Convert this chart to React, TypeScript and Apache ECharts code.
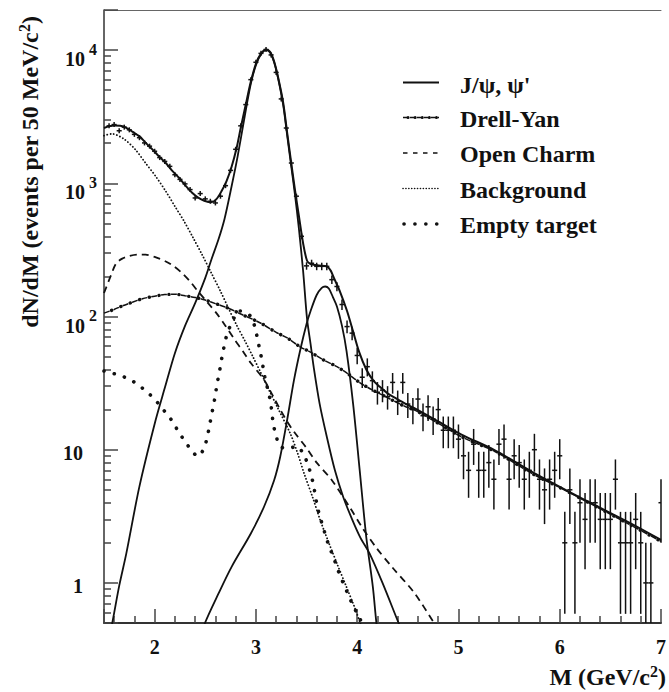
import React, { useEffect, useRef } from 'react';
import * as echarts from 'echarts';

const FONT = "'Liberation Serif', 'Times New Roman', Times, serif";
const INK = '#111';

// Bin centres (GeV/c^2) and event counts per 50 MeV/c^2
const massBins: number[] = [
  1.55, 1.6, 1.65, 1.7, 1.75, 1.8, 1.85, 1.9, 1.95, 2.0,
  2.05, 2.1, 2.15, 2.2, 2.25, 2.3, 2.35, 2.4, 2.45, 2.5,
  2.55, 2.6, 2.65, 2.7, 2.75, 2.8, 2.85, 2.9, 2.95, 3.0,
  3.05, 3.1, 3.15, 3.2, 3.25, 3.3, 3.35, 3.4, 3.45, 3.5,
  3.55, 3.6, 3.65, 3.7, 3.75, 3.8, 3.85, 3.9, 3.95, 4.0,
  4.05, 4.1, 4.15, 4.2, 4.25, 4.3, 4.35, 4.4, 4.45, 4.5,
  4.55, 4.6, 4.65, 4.7, 4.75, 4.8, 4.85, 4.9, 4.95, 5.0,
  5.05, 5.1, 5.15, 5.2, 5.25, 5.3, 5.35, 5.4, 5.45, 5.5,
  5.55, 5.6, 5.65, 5.7, 5.75, 5.8, 5.85, 5.9, 5.95, 6.0,
  6.05, 6.1, 6.15, 6.2, 6.25, 6.3, 6.35, 6.4, 6.45, 6.5,
  6.55, 6.6, 6.65, 6.7, 6.75, 6.8, 6.85, 6.9, 6.95, 7.0,
];
const counts: number[] = [
  2700, 2760, 2480, 2640, 2520, 2330, 2200, 2010, 1900, 1740,
  1560, 1460, 1340, 1160, 1070, 990, 897, 776, 837, 764,
  733, 712, 800, 960, 1250, 1800, 2700, 3900, 6000, 8100,
  9450, 10100, 9200, 6800, 4300, 2600, 1420, 800, 400, 240,
  251, 238, 238, 238, 189, 168, 123, 84, 75, 51,
  35, 42, 33, 27, 28, 25, 32, 23, 32, 22,
  20, 24, 18, 21, 17, 20, 14, 14, 14, 12,
  9, 7, 11, 7, 7, 8, 6, 11, 12, 6,
  9, 8, 6, 7, 10, 6, 5, 6, 7, 9,
  2, 5, 2, 4, 3, 4, 4, 3, 3, 3,
  6, 2, 2, 2, 3, 2, 1, 1, 0, 4,
];

// Fitted curves: [mass, dN/dM]
const totalFit: [number, number][] = [
  [1.5, 2600], [1.55, 2680], [1.6, 2720], [1.66, 2700], [1.72, 2610], [1.78, 2440],
  [1.85, 2250], [1.91, 2020], [1.98, 1790], [2.04, 1600], [2.11, 1420], [2.17, 1250],
  [2.24, 1100], [2.3, 970], [2.37, 848], [2.43, 780], [2.49, 740], [2.56, 720],
  [2.61, 760], [2.66, 871], [2.71, 1040], [2.76, 1330], [2.81, 1850], [2.85, 2600],
  [2.9, 3900], [2.95, 5800], [3.0, 7900], [3.05, 9400], [3.1, 10100], [3.14, 9700],
  [3.18, 8200], [3.22, 6200], [3.27, 4000], [3.31, 2350], [3.35, 1400], [3.385, 900],
  [3.424, 571], [3.466, 355], [3.505, 262], [3.54, 247], [3.57, 245], [3.62, 241],
  [3.7, 238], [3.74, 220], [3.77, 195], [3.83, 154], [3.9, 110], [3.96, 77],
  [4.02, 54], [4.09, 40], [4.16, 33], [4.22, 29.8], [4.3, 26.5], [4.38, 24.4],
  [4.47, 22.3], [4.56, 20.6], [4.8, 16.3], [5.03, 13.0], [5.36, 9.9], [5.73, 6.8],
  [6.3, 4.0], [6.7, 2.8], [7.0, 2.1],
];
const jpsi: [number, number][] = [
  [1.55, 0.38], [1.586, 0.52], [1.65, 0.95], [1.72, 1.66], [1.85, 5.3], [2.01, 16.7],
  [2.1, 29], [2.2, 53], [2.3, 85], [2.4, 126], [2.5, 195], [2.56, 267], [2.63, 378],
  [2.69, 540], [2.76, 950], [2.82, 1600], [2.89, 3200], [2.95, 5600], [3.0, 7700],
  [3.05, 9300], [3.1, 10000], [3.14, 9600], [3.18, 8100], [3.22, 6100], [3.27, 3850],
  [3.31, 2250], [3.35, 1320], [3.385, 830], [3.424, 460], [3.466, 220], [3.505, 96],
  [3.54, 62], [3.57, 42], [3.63, 22], [3.7, 12.5], [3.78, 7.0], [3.863, 4.4],
  [3.95, 3.0], [4.03, 2.2], [4.123, 1.66], [4.25, 1.0], [4.4, 0.52], [4.45, 0.42],
];
const psiPrime: [number, number][] = [
  [2.45, 0.38], [2.497, 0.5], [2.63, 0.83], [2.76, 1.32], [2.95, 2.35], [3.08, 3.73],
  [3.18, 5.9], [3.24, 8.85], [3.31, 17], [3.375, 33], [3.44, 57], [3.5, 88],
  [3.54, 110], [3.6, 145], [3.65, 164], [3.684, 168], [3.72, 162], [3.76, 140],
  [3.8, 119], [3.85, 85], [3.895, 55], [3.96, 22], [4.025, 7.0], [4.09, 2.2],
  [4.155, 0.93], [4.19, 0.5], [4.22, 0.35],
];
const drellYan: [number, number][] = [
  [1.5, 106], [1.6, 113], [1.68, 120], [1.78, 128], [1.88, 136], [2.0, 142],
  [2.1, 146], [2.2, 147], [2.3, 143], [2.4, 139], [2.5, 133], [2.6, 125],
  [2.72, 116], [2.88, 102], [3.05, 89], [3.2, 76], [3.31, 69], [3.44, 59],
  [3.54, 54], [3.65, 48], [3.8, 42], [3.9, 37.5], [4.05, 31], [4.28, 25],
  [4.48, 21], [4.56, 20], [4.8, 15.8], [5.03, 12.5], [5.36, 9.7], [5.73, 6.6],
  [6.0, 5.2], [6.3, 3.95], [6.65, 2.85], [7.0, 2.05],
];
const openCharm: [number, number][] = [
  [1.5, 150], [1.52, 164], [1.57, 205], [1.62, 251], [1.68, 272], [1.75, 285],
  [1.83, 292], [1.91, 291], [2.0, 280], [2.11, 259], [2.19, 238], [2.27, 212],
  [2.35, 183], [2.43, 154], [2.52, 128], [2.61, 106], [2.7, 85], [2.79, 67],
  [2.87, 55], [2.95, 44.7], [3.08, 33.5], [3.16, 26], [3.24, 20], [3.31, 16.2],
  [3.38, 13.5], [3.5, 10.3], [3.6, 8.0], [3.75, 5.9], [3.93, 3.66], [4.05, 2.6],
  [4.19, 1.83], [4.35, 1.3], [4.56, 0.85], [4.76, 0.5], [4.8, 0.45],
];
const background: [number, number][] = [
  [1.5, 2280], [1.58, 2350], [1.7, 2140], [1.81, 1790], [1.91, 1420], [2.01, 1130],
  [2.11, 871], [2.2, 672], [2.29, 520], [2.38, 390], [2.47, 290], [2.56, 212],
  [2.65, 155], [2.73, 115], [2.81, 86], [2.89, 66], [2.97, 50], [3.05, 37.6],
  [3.13, 28], [3.21, 21], [3.34, 13.2], [3.41, 9.5], [3.48, 6.5], [3.56, 4.4],
  [3.635, 2.96], [3.72, 2.0], [3.8, 1.4], [3.89, 0.95], [3.98, 0.64], [4.03, 0.5],
  [4.06, 0.44],
];
const emptyTarget: [number, number][] = [
  [1.5, 39], [1.55, 38], [1.65, 36.3], [1.75, 33.8], [1.83, 31], [1.92, 27.3],
  [2.0, 24], [2.06, 21], [2.13, 18.2], [2.19, 15.7], [2.24, 13.4], [2.3, 11.6],
  [2.36, 9.95], [2.43, 8.9], [2.49, 10.4], [2.52, 12.5], [2.54, 14.9], [2.56, 17.9],
  [2.58, 21.4], [2.6, 25.7], [2.615, 30.9], [2.637, 37.3], [2.653, 44], [2.672, 53],
  [2.695, 64], [2.72, 76], [2.767, 91], [2.83, 110], [2.9, 108], [2.96, 97],
  [2.995, 80], [3.02, 65.6], [3.043, 54], [3.063, 45.4], [3.079, 38], [3.102, 31.6],
  [3.128, 26.3], [3.147, 22], [3.161, 18.2], [3.173, 15.3], [3.2, 12.8], [3.232, 10.7],
  [3.31, 10.2], [3.407, 10.6], [3.473, 9.1], [3.512, 7.8], [3.544, 6.45], [3.57, 5.4],
  [3.586, 4.5], [3.609, 3.7], [3.628, 3.2], [3.661, 2.67], [3.693, 2.2], [3.726, 1.85],
  [3.765, 1.57], [3.798, 1.32], [3.837, 1.11], [3.879, 0.93], [3.921, 0.785],
  [3.97, 0.65], [4.025, 0.546], [4.06, 0.45],
];

const legendLabels: string[] = ["J/ψ, ψ'", 'Drell-Yan', 'Open Charm', 'Background', 'Empty target'];

function yLabel(v: number): string {
  const p = Math.round(Math.log10(v));
  if (Math.abs(Math.log10(v) - p) > 1e-6) return '';
  if (p === 0) return '{n|1}';
  if (p === 1) return '{n|10}';
  return '{b|10}{s|' + p + '}';
}

export default function App() {
  const ref = useRef<HTMLDivElement>(null);
  useEffect(() => {
    if (!ref.current) return;
    const chart = echarts.init(ref.current, undefined, { renderer: 'svg' });

    const points = massBins
      .map((m, i) => [m, counts[i]])
      .filter((d) => d[1] > 0);

    const lineBase = { type: 'line', showSymbol: false, symbol: 'none', smooth: 0.3, silent: true };

    const rowY = [84.5, 118.5, 154, 189.5, 225];
    const lx1 = 403;
    const lx2 = 439;

    const legendGraphics: any[] = [
      { type: 'line', shape: { x1: lx1, y1: rowY[0] - 2, x2: lx2, y2: rowY[0] - 2 }, style: { stroke: INK, lineWidth: 2 } },
      { type: 'line', shape: { x1: lx1, y1: rowY[1] - 1, x2: lx2, y2: rowY[1] - 1 }, style: { stroke: INK, lineWidth: 1.4, lineDash: [4, 3] } },
      { type: 'line', shape: { x1: lx1 + 5, y1: rowY[1] - 1, x2: lx2, y2: rowY[1] - 1 }, style: { stroke: INK, lineWidth: 3, lineDash: [0.1, 7], lineCap: 'round' } },
      { type: 'line', shape: { x1: lx1, y1: rowY[2] - 1, x2: lx2, y2: rowY[2] - 1 }, style: { stroke: INK, lineWidth: 1.7, lineDash: [4.5, 5.5] } },
      { type: 'line', shape: { x1: lx1, y1: rowY[3] - 1, x2: lx2, y2: rowY[3] - 1 }, style: { stroke: INK, lineWidth: 1.6, lineDash: [0.1, 2.8], lineCap: 'round' } },
      { type: 'line', shape: { x1: lx1 + 1, y1: rowY[4] - 1, x2: lx2, y2: rowY[4] - 1 }, style: { stroke: INK, lineWidth: 3.6, lineDash: [0.1, 10.8], lineCap: 'round' } },
    ];
    legendLabels.forEach((t, i) => {
      legendGraphics.push({
        type: 'text', x: 460, y: rowY[i],
        style: { text: t, fontFamily: FONT, fontWeight: 'bold', fontSize: 24, fill: INK, align: 'left', verticalAlign: 'middle' },
      });
    });

    const titleRich = {
      a: { fontFamily: FONT, fontWeight: 'bold', fontSize: 24, fill: INK, color: INK, lineHeight: 26, verticalAlign: 'bottom' },
      s: { fontFamily: FONT, fontWeight: 'bold', fontSize: 16, fill: INK, color: INK, lineHeight: 14, verticalAlign: 'top' },
    };

    chart.setOption({
      animation: false,
      backgroundColor: '#fff',
      grid: { left: 104, right: 1, top: 10, bottom: 69, containLabel: false },
      xAxis: [
        {
          type: 'value', min: 1.5, max: 7, position: 'bottom',
          axisLine: { show: true, lineStyle: { color: '#333', width: 2 } },
          axisTick: { show: true, inside: true, length: 14, lineStyle: { color: '#444', width: 1.5 } },
          minorTick: { show: true, splitNumber: 5, length: 7, lineStyle: { color: '#444', width: 1.5 } },
          splitLine: { show: false },
          axisLabel: {
            show: true, margin: 14, showMinLabel: false,
            fontFamily: FONT, fontWeight: 'bold', fontSize: 20, color: INK,
            formatter: (v: number) => (Math.abs(v - Math.round(v)) < 1e-6 ? String(Math.round(v)) : ''),
          },
        },
        {
          type: 'value', min: 1.5, max: 7, position: 'top',
          axisLine: { show: true, lineStyle: { color: '#666', width: 1 } },
          axisTick: { show: false }, axisLabel: { show: false }, splitLine: { show: false },
        },
      ],
      yAxis: {
        type: 'log', logBase: 10, min: 0.5, max: 20000,
        axisLine: { show: true, lineStyle: { color: '#333', width: 1.5 } },
        axisTick: { show: true, inside: true, length: 14, lineStyle: { color: '#444', width: 1.5 } },
        minorTick: { show: true, splitNumber: 9, length: 7, lineStyle: { color: '#444', width: 1.5 } },
        splitLine: { show: false },
        minorSplitLine: { show: false },
        axisLabel: {
          show: true, margin: 7,
          formatter: yLabel,
          rich: {
            b: { fontFamily: FONT, fontWeight: 'bold', fontSize: 20, color: INK, lineHeight: 20, padding: [9, 0, 0, 0], verticalAlign: 'top' },
            s: { fontFamily: FONT, fontWeight: 'bold', fontSize: 16, color: INK, lineHeight: 16, padding: [1, 0, 0, 4], verticalAlign: 'top' },
            n: { fontFamily: FONT, fontWeight: 'bold', fontSize: 20, color: INK, lineHeight: 20, padding: [6, 14, 0, 0] },
          },
        },
      },
      graphic: [
        {
          type: 'text', x: 29, y: 172, rotation: Math.PI / 2,
          style: {
            text: '{a|dN/dM (events per 50 MeV/c}{s|2}{a|)}',
            rich: titleRich, align: 'center', verticalAlign: 'middle',
            fontFamily: FONT, fontWeight: 'bold', fontSize: 24, fill: INK,
          },
        },
        {
          type: 'text', x: 666, y: 676,
          style: {
            text: '{a|M (GeV/c}{s|2}{a|)}',
            rich: titleRich, align: 'right', verticalAlign: 'middle',
            fontFamily: FONT, fontWeight: 'bold', fontSize: 24, fill: INK,
          },
        },
        ...legendGraphics,
      ],
      series: [
        { ...lineBase, name: 'Background', data: background, z: 2,
          lineStyle: { color: INK, width: 1.8, type: [0.1, 3.2], cap: 'round' } },
        { ...lineBase, name: 'Empty target', data: emptyTarget, z: 2,
          lineStyle: { color: INK, width: 3.6, type: [0.1, 10.5], cap: 'round' } },
        { ...lineBase, name: 'Open Charm', data: openCharm, z: 2,
          lineStyle: { color: INK, width: 1.8, type: [7, 5] } },
        { ...lineBase, name: 'Drell-Yan', data: drellYan, z: 2,
          lineStyle: { color: INK, width: 1.5, type: [6, 4] } },
        { ...lineBase, name: 'Drell-Yan dots', data: drellYan, z: 2,
          lineStyle: { color: INK, width: 3.4, type: [0.1, 9.9], dashOffset: 2, cap: 'round' } },
        { ...lineBase, name: 'J/ψ', data: jpsi, z: 3, lineStyle: { color: INK, width: 1.8 } },
        { ...lineBase, name: "ψ'", data: psiPrime, z: 3, lineStyle: { color: INK, width: 1.8 } },
        { ...lineBase, name: 'Total fit', data: totalFit, z: 4, lineStyle: { color: INK, width: 2 } },
        {
          type: 'custom', name: 'Data', data: points, z: 5, silent: true,
          encode: { x: 0, y: 1 },
          renderItem: (params: any, api: any) => {
            const m = api.value(0);
            const n = api.value(1);
            if (!(n > 0)) return null;
            const cs = params.coordSys;
            const err = Math.sqrt(n);
            const lo = Math.max(n - err, 0.3);
            const hi = n + err;
            const c = api.coord([m, n]);
            const pl = api.coord([m, lo]);
            const ph = api.coord([m, hi]);
            const left = api.coord([m - 0.025, n]);
            const right = api.coord([m + 0.025, n]);
            const clampY = (y: number) => Math.max(cs.y, Math.min(cs.y + cs.height, y));
            const clampX = (x: number) => Math.max(cs.x, Math.min(cs.x + cs.width, x));
            const yBottom = clampY(Math.max(pl[1], c[1] + 2.5));
            const yTop = clampY(Math.min(ph[1], c[1] - 2.5));
            return {
              type: 'group',
              children: [
                { type: 'line', shape: { x1: c[0], y1: yBottom, x2: c[0], y2: yTop }, style: { stroke: INK, lineWidth: 1.5 } },
                { type: 'line', shape: { x1: clampX(left[0]), y1: c[1], x2: clampX(right[0]), y2: c[1] }, style: { stroke: INK, lineWidth: 1.5 } },
              ],
            };
          },
        },
      ],
    });
    return () => chart.dispose();
  }, []);
  return <div ref={ref} style={{ position: 'absolute', left: 0, top: 0, width: 669, height: 692 }} />;
}
